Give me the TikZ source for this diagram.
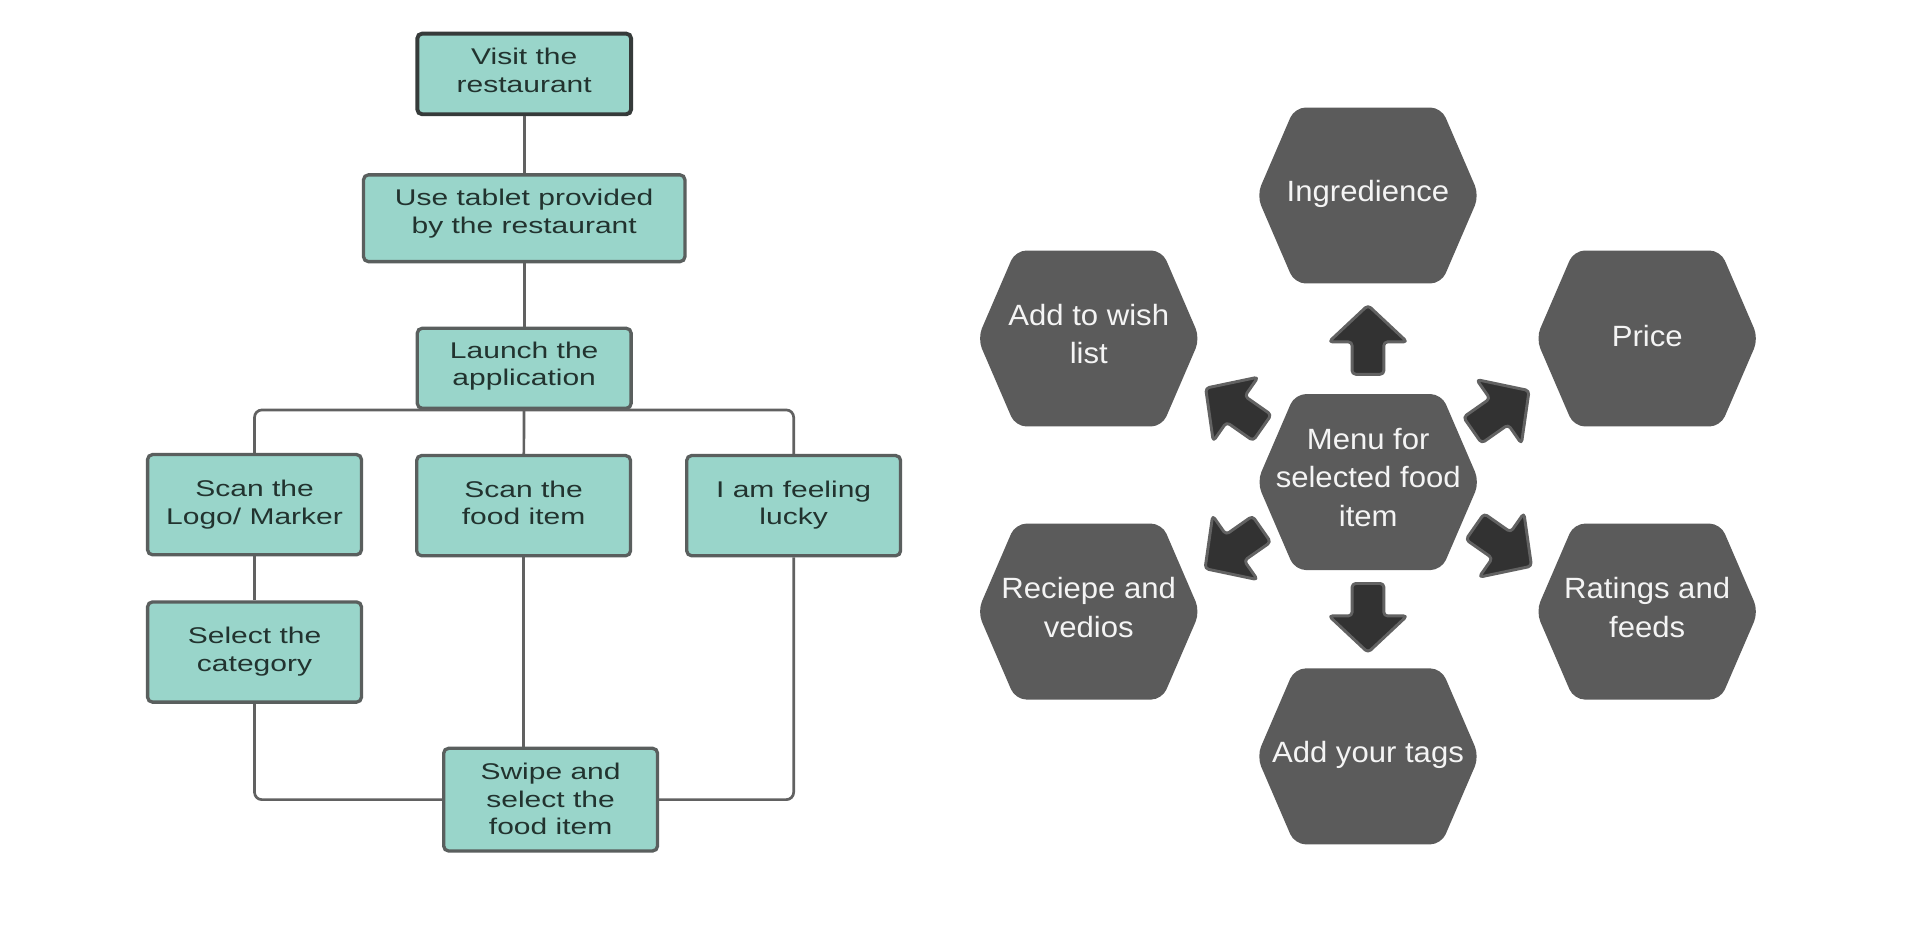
\documentclass[tikz,border=0pt]{standalone}
\usepackage{fontspec}
\setmainfont{Liberation Sans}
\newfontfamily\flowfont[FakeStretch=1.32]{Liberation Sans}
\newfontfamily\hexfont[FakeStretch=1.06]{Liberation Sans}
\usetikzlibrary{calc}
\definecolor{tealfill}{HTML}{99D5CA}
\definecolor{boxline}{HTML}{5A5F5E}
\definecolor{visitline}{HTML}{363B3A}
\definecolor{flowtext}{HTML}{22332F}
\definecolor{connline}{HTML}{616161}
\definecolor{hexfill}{HTML}{5B5B5B}
\definecolor{hextextcol}{HTML}{F4F4F4}
\definecolor{arrowfill}{HTML}{323232}
\definecolor{arrowline}{HTML}{626262}
\newcommand\ftab[2][0pt]{\raisebox{#1}[\height][\depth]{\begin{tabular}{@{}c@{}}#2\end{tabular}}}
\tikzset{
  flowbox/.style={draw=boxline, line width=2.7pt, fill=tealfill, rounded corners=4pt,
    text=flowtext, font=\flowfont\fontsize{18.6}{22.6}\selectfont,
    inner sep=0pt, minimum width=175pt, minimum height=82pt},
  conn/.style={draw=connline, line width=2.2pt, rounded corners=6pt},
  hextext/.style={text=hextextcol, font=\hexfont\fontsize{24}{31.5}\selectfont, align=center, inner sep=0pt},
  pics/hexagon/.style={code={
    \fill[hexfill, rounded corners=9pt] (-91,0) -- (-60,-72) -- (60,-72) -- (91,0) -- (60,72) -- (-60,72) -- cycle;}},
  pics/blockarrow/.style={code={
    \filldraw[fill=arrowfill, draw=arrowline, line width=2.4pt, rounded corners=3pt, line join=round]
      (-28,-13) -- (-1.5,-13) -- (-1.5,-32) -- (28.5,0) -- (-1.5,32) -- (-1.5,13) -- (-28,13) -- cycle;}}
}
\begin{document}
\begin{tikzpicture}[x=1pt,y=-1pt]
\fill[white] (0,0) rectangle (1568,774);
\useasboundingbox (0,0) rectangle (1568,774);

% ---------- flowchart ----------
\node[flowbox, draw=visitline, line width=3.2pt, minimum width=175pt, minimum height=66pt] (visit) at (429,60.5) {\ftab[1pt]{Visit the\\restaurant}};
\node[flowbox, minimum width=263pt, minimum height=71pt] (tablet) at (429,178.6) {\ftab[3.5pt]{Use tablet provided\\by the restaurant}};
\node[flowbox, minimum height=65.5pt] (launch) at (429,301.4) {\ftab[1.5pt]{Launch the\\application}};
\node[flowbox] (scanlogo) at (208.3,413) {\ftab{Scan the\\Logo/ Marker}};
\node[flowbox] (scanfood) at (428.5,413.8) {\ftab{Scan the\\food item}};
\node[flowbox] (lucky) at (649.5,413.8) {\ftab{I am feeling\\lucky}};
\node[flowbox] (selcat) at (208.3,533.6) {\ftab{Select the\\category}};
\node[flowbox, minimum height=84pt] (swipe) at (450.6,654.4) {\ftab[-1.5pt]{Swipe and\\select the\\food item}};

\draw[conn] (visit) -- (tablet);
\draw[conn] (tablet) -- (launch);
\draw[conn] (launch) -- (scanfood);
\draw[conn] (launch.south) -| (scanlogo.north);
\draw[conn] (launch.south) -| (lucky.north);
\draw[conn] (scanlogo) -- (selcat);
\draw[conn] (selcat.south) |- (swipe.west);
\draw[conn] (scanfood.south) -- (scanfood.south |- swipe.north);
\draw[conn] (lucky.south) |- (swipe.east);

% ---------- hexagon menu ----------
\pic (hING) at (1119.5,160) {hexagon};
\pic (hWISH) at (891,277) {hexagon};
\pic (hPRICE) at (1348,277) {hexagon};
\pic (hMENU) at (1119.7,394.5) {hexagon};
\pic (hREC) at (891,500.5) {hexagon};
\pic (hRAT) at (1348,500.5) {hexagon};
\pic (hTAGS) at (1119.5,619) {hexagon};

\node[hextext] (ing) at (1119.5,158.5) {Ingredience};
\node[hextext] (wish) at (891,273.5) {Add to wish\\list};
\node[hextext] (price) at (1348,275) {Price};
\node[hextext] (menu) at (1119.7,390.5) {Menu for\\selected food\\item};
\node[hextext] (recipe) at (891,497) {Reciepe and\\vedios};
\node[hextext] (ratings) at (1348,497) {Ratings and\\feeds};
\node[hextext] (tags) at (1119.5,617.5) {Add your tags};

\pic[rotate=90] (aUp) at (1119.5,278.3) {blockarrow};
\pic[rotate=-90] (aDown) at (1119.5,505.5) {blockarrow};
\pic[rotate=145] (aUL) at (1010,334) {blockarrow};
\pic[rotate=35] (aUR) at (1228,336) {blockarrow};
\pic[rotate=-145] (aLL) at (1009.5,449) {blockarrow};
\pic[rotate=-35] (aLR) at (1230,447) {blockarrow};
\end{tikzpicture}
\end{document}
